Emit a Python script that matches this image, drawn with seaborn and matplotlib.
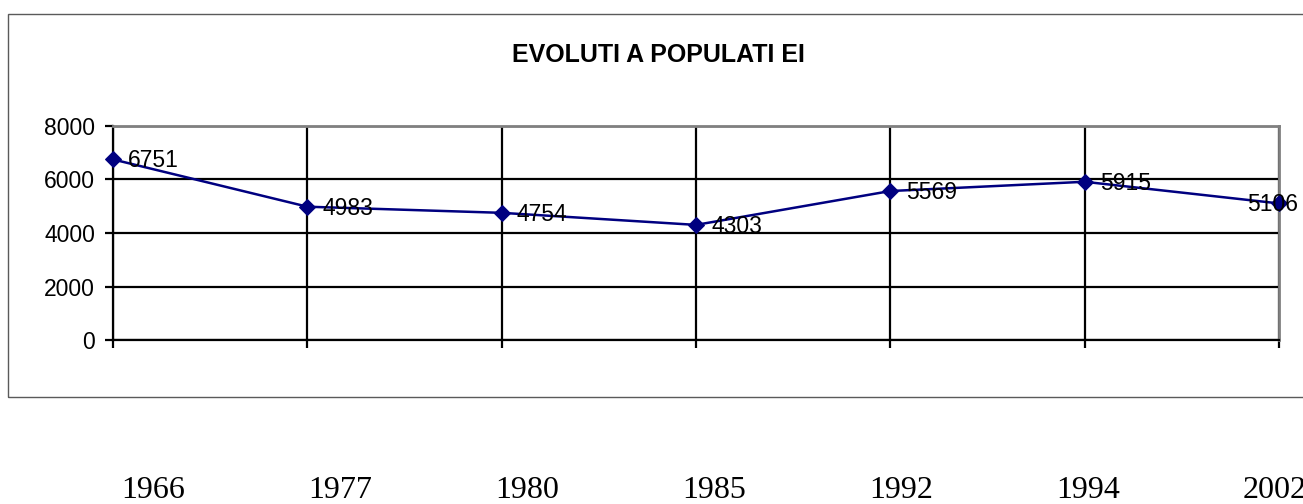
import pandas as pd
import matplotlib.pyplot as plt
from matplotlib.patches import Rectangle
import seaborn as sns

# date
ani = ['1966', '1977', '1980', '1985', '1992', '1994', '2002']
populatie = [6751, 4983, 4754, 4303, 5569, 5915, 5106]
titlu = 'EVOLUTI A POPULATI EI'

df = pd.DataFrame({'an': ani, 'populatie': populatie})

sns.set_theme(style='white')
plt.rcParams['font.family'] = ['Liberation Sans', 'DejaVu Sans']

fig = plt.figure(figsize=(13.03, 5.04), dpi=100)
ax = fig.add_axes([113/1303, 1 - 340/504, (1279 - 113)/1303, (340 - 126)/504])

# chenar exterior (iese din imagine in dreapta)
fig.patches.append(Rectangle((8/1303, 1 - 397/504), 1.2, (397 - 14)/504,
                             transform=fig.transFigure, fill=False,
                             edgecolor='#5a5a5a', linewidth=1.0, clip_on=False))

sns.lineplot(data=df, x='an', y='populatie', ax=ax, color='#000080',
             linewidth=1.8, marker='D', markersize=8, markeredgecolor='#000080',
             clip_on=False, zorder=5)

ax.set_xlim(0, len(ani) - 1)
ax.set_ylim(0, 8000)
ax.set_yticks(range(0, 8001, 2000))
ax.set_xticks(range(len(ani)))
ax.set_xticklabels([])
ax.set_xlabel('')
ax.set_ylabel('')

ax.grid(True, color='black', linewidth=1.6, zorder=1)
ax.set_axisbelow(True)
ax.tick_params(axis='both', direction='out', length=6, width=1.6, color='black',
               left=True, bottom=True)
ax.tick_params(axis='y', labelsize=16.5, pad=7, labelcolor='black')

for s in ['left', 'bottom']:
    ax.spines[s].set_color('black')
    ax.spines[s].set_linewidth(1.6)
for s in ['top', 'right']:
    ax.spines[s].set_color('#808080')
    ax.spines[s].set_linewidth(2)

# etichete valori
for i, v in enumerate(populatie):
    if i == len(populatie) - 1:
        ax.annotate(str(v), (i, v), xytext=(14, -1), textcoords='offset points',
                    ha='right', va='center', fontsize=16.5, color='black',
                    annotation_clip=False, zorder=6)
    else:
        ax.annotate(str(v), (i, v), xytext=(11, -1), textcoords='offset points',
                    ha='left', va='center', fontsize=16.5, color='black', zorder=6)

# anii sub chenar (rand separat, alta scara decat graficul)
ax_ani = fig.add_axes([153/1303, 1 - 500/504, (1275 - 153)/1303, 20/504])
ax_ani.set_xlim(0, len(ani) - 1)
ax_ani.set_ylim(0, 1)
ax_ani.axis('off')
for i, an in enumerate(ani):
    ax_ani.text(i, 0.5, an, ha='center', va='center', fontsize=23,
                family=['Liberation Serif', 'DejaVu Serif'], color='black', clip_on=False)

fig.text(658/1303, 1 - 55/504, titlu, ha='center', va='center',
         fontsize=18, fontweight='bold', color='black')

fig.savefig('out.png', dpi=100)
